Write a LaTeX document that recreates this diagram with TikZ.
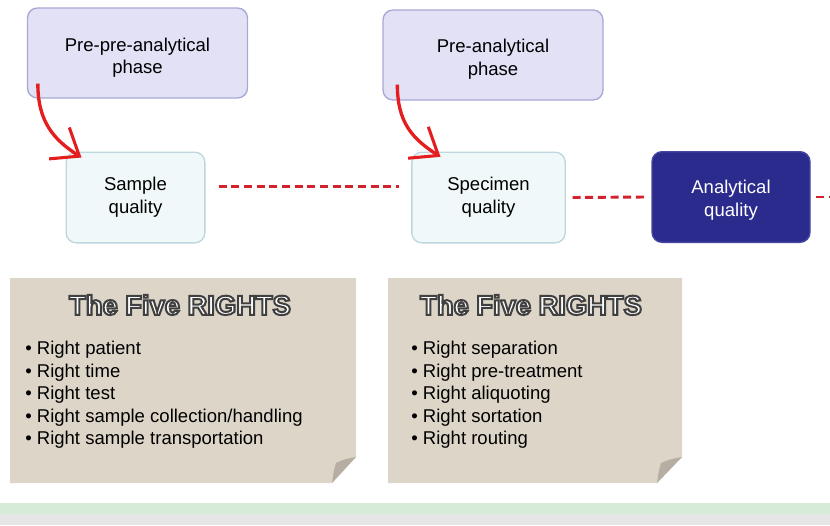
\documentclass[tikz,border=0pt]{standalone}
\usepackage{fontspec}
\setmainfont{Liberation Sans}
\usetikzlibrary{arrows.meta}
\definecolor{boxlav}{RGB}{226,225,245}
\definecolor{lavline}{RGB}{168,168,214}
\definecolor{paleblue}{RGB}{241,248,250}
\definecolor{paleline}{RGB}{190,214,221}
\definecolor{navy}{RGB}{43,43,142}
\definecolor{navyline}{RGB}{70,70,160}
\definecolor{linkred}{RGB}{210,34,44}
\definecolor{arrowred}{RGB}{228,30,30}
\definecolor{paper}{RGB}{221,213,200}
\definecolor{paperfold}{RGB}{182,174,163}
\definecolor{stripgreen}{RGB}{214,235,216}
\definecolor{stripgray}{RGB}{230,230,230}
\newcommand\outlined[1]{\special{pdf:literal direct 2 Tr 1.5 w 0.25 0.25 0.25 RG}#1\special{pdf:literal direct 0 Tr}}
\tikzset{
  phase/.style={draw=lavline, fill=boxlav, line width=1pt, rounded corners=7.5pt,
    minimum width=165pt, minimum height=67.5pt, align=center, font=\fontsize{13.9}{17}\selectfont},
  quality/.style={draw=paleline, fill=paleblue, line width=1pt, rounded corners=7.5pt,
    minimum height=68pt, align=center, font=\fontsize{13.9}{17}\selectfont},
  analytic/.style={quality, draw=navyline, fill=navy, text=white},
  link/.style={draw=linkred, line width=2.2pt, dash pattern=on 6pt off 3.5pt},
  curvy/.style={draw=arrowred, line width=2.5pt, -{Straight Barb[length=18pt,width=28pt,line width=2.3pt]}},
  rights/.style={text=white, inner sep=0pt, font=\bfseries\fontsize{20.5}{24}\selectfont},
  items/.style={align=left, inner sep=0pt, anchor=north west, font=\fontsize{13.9}{16.9}\selectfont}
}
\begin{document}
\begin{tikzpicture}[x=0.75pt,y=-0.75pt]
  \useasboundingbox (0,0) rectangle (830,525);
  \fill[stripgreen] (0,503) rectangle (830,514);
  \fill[stripgray] (0,514) rectangle (830,525);
  \fill[paper] (10,278) -- (356,278) -- (356,457) -- (332,483) -- (10,483) -- cycle;
  \fill[paperfold] (356,457) .. controls (345,459) .. (336,463) .. controls (334,470) .. (332,483) -- cycle;
  \fill[paper] (388,278) -- (682,278) -- (682,457) -- (657,483) -- (388,483) -- cycle;
  \fill[paperfold] (682,457) .. controls (671,459) .. (661,463) .. controls (659,470) .. (657,483) -- cycle;

  \node[phase] (pp) at (137.5,53) {\rule{0pt}{17pt}Pre-pre-analytical\\phase};
  \node[phase] (pa) at (493,55) {\rule{0pt}{16pt}Pre-analytical\\phase};
  \node[quality, minimum width=104pt] (sq) at (135.5,197.5) {Sample\\quality};
  \node[quality, minimum width=115pt] (spq) at (488.5,197.5) {Specimen\\quality};
  \node[analytic, minimum width=118.5pt] (aq) at (731,197) {\rule{0pt}{15pt}Analytical\\quality};
  \coordinate (edge) at (834,197);

  \draw[link] ([xshift=9.75pt,yshift=8pt]sq.east) -- ([xshift=-9pt,yshift=8pt]spq.west);
  \draw[link] ([xshift=5pt]spq.east) -- ([xshift=-5pt]aq.west);
  \draw[link] ([xshift=4pt]aq.east) -- (edge);

  \draw[curvy] ([xshift=8.25pt,yshift=11.25pt]pp.south west) .. controls +(0,38) and +(-28,-18) .. ([xshift=12pt,yshift=-4.5pt]sq.north west);
  \draw[curvy] ([xshift=11.25pt,yshift=12pt]pa.south west) .. controls +(0,38) and +(-28,-18) .. ([xshift=22pt,yshift=-4pt]spq.north west);

  \node[rights] (t1) at (180,305) {\outlined{The Five RIGHTS}};
  \node[rights] (t2) at (531,305) {\outlined{The Five RIGHTS}};
  \node[items] (l1) at (25,341) {\textbullet\ Right patient\\\textbullet\ Right time\\\textbullet\ Right test\\\textbullet\ Right sample collection/handling\\\textbullet\ Right sample transportation};
  \node[items] (l2) at (411,341) {\textbullet\ Right separation\\\textbullet\ Right pre-treatment\\\textbullet\ Right aliquoting\\\textbullet\ Right sortation\\\textbullet\ Right routing};
\end{tikzpicture}
\end{document}
